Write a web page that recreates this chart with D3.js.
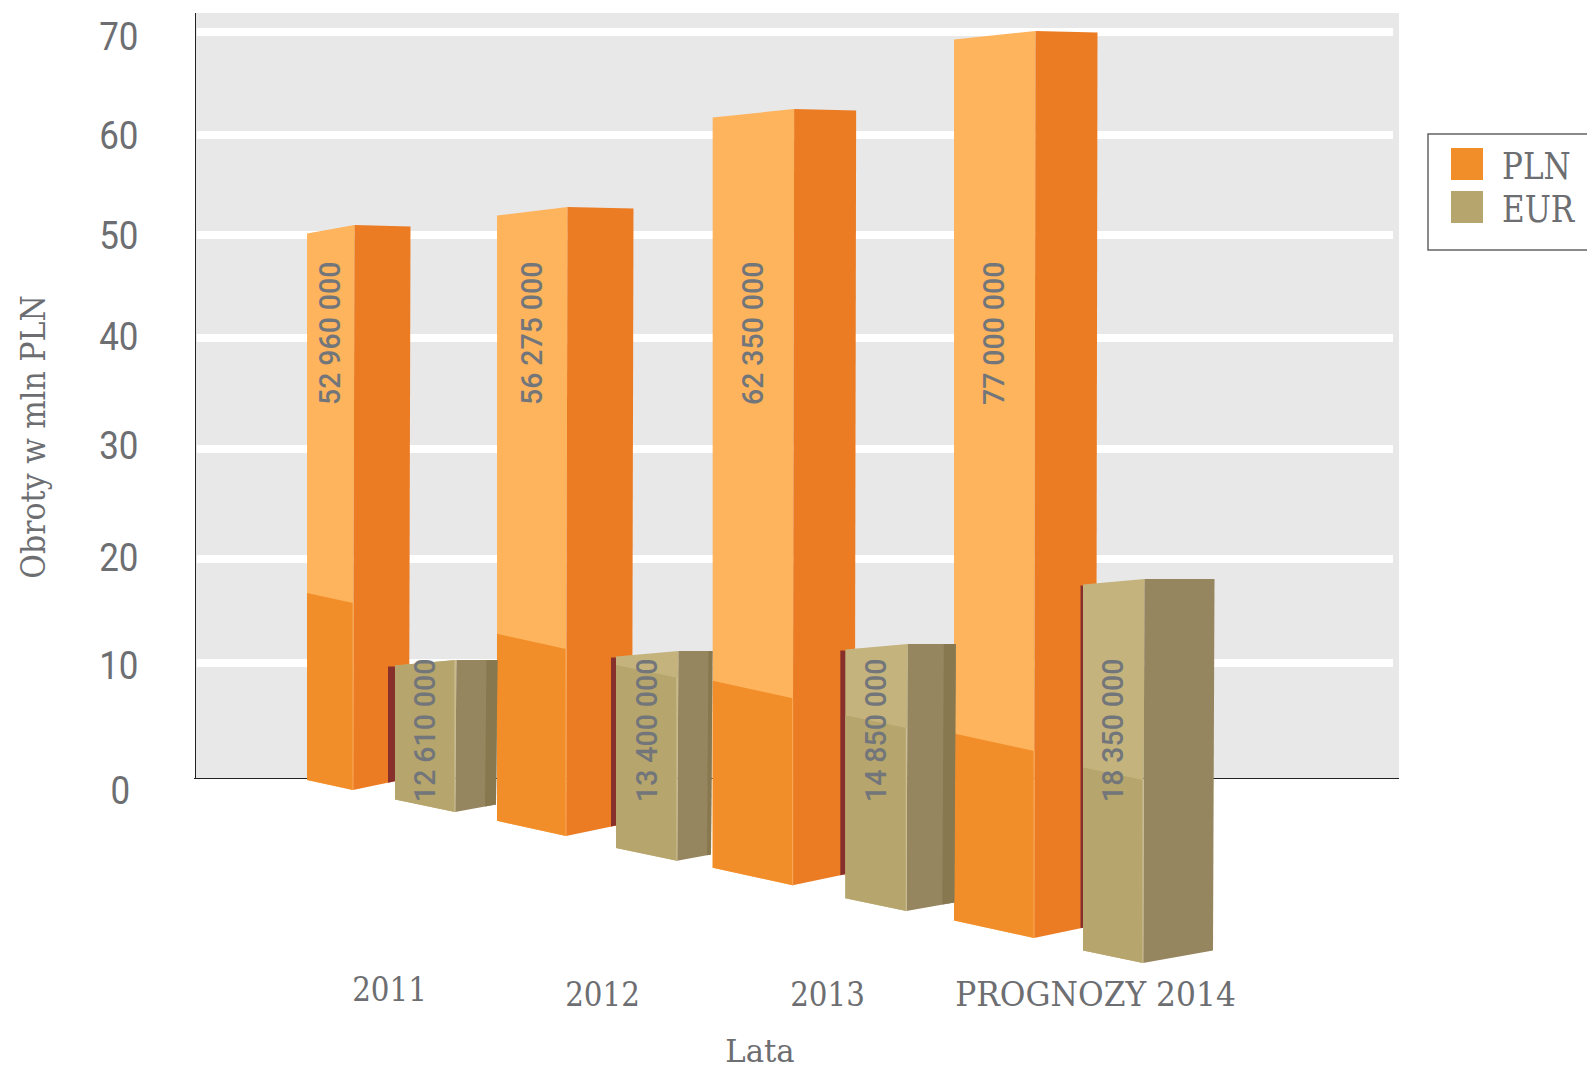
<!DOCTYPE html>
<html>
<head>
<meta charset="utf-8">
<script src="https://d3js.org/d3.v7.min.js"></script>
<style>
    body { margin: 0; background: #fff; overflow: hidden; }
    svg { display: block; }
</style>
</head>
<body>
<svg id="chart" width="1587" height="1070"></svg>
<script>
// values
var categories = ["2011", "2012", "2013", "PROGNOZY 2014"];
var plnValues = [52960000, 56275000, 62350000, 77000000];
var eurValues = [12610000, 13400000, 14850000, 18350000];
var yTicks = [0, 10, 20, 30, 40, 50, 60, 70];
var seriesNames = ["PLN", "EUR"];

var SERIF = "'DejaVu Serif', serif";
var SANS = "Roboto, sans-serif";
var TEXT = "#6d6e71";

var svg = d3.select("#chart");

// the printed axis is not evenly spaced, so both scales are piecewise
var yGrid = d3.scaleLinear().domain(yTicks).range([778, 663, 559, 449, 338, 235, 135, 32]);
var yLabel = d3.scaleLinear().domain(yTicks).range([791, 666, 558, 446, 337, 236, 136, 37]);
var xLabel = d3.scaleOrdinal(categories, [389, 602, 827, 1095]);

// bar tops in the original don't follow the axis, this is how tall each value was drawn
var topY = d3.scaleLinear()
    .domain(eurValues.concat(plnValues))
    .range([660, 651, 644, 579, 225, 207, 109, 31]);

// bars get bigger and further apart towards the viewer
function depth(c, range) {
    return d3.scalePow().exponent(2).domain([c, c + 3]).range(range);
}

var series = {
    PLN: {
        values: plnValues,
        left: depth(6.9, [307, 954]),
        base: depth(13.3, [790, 938]),
        front: d3.scaleOrdinal(categories, [46, 69, 80, 80]),
        side: d3.scaleOrdinal(categories, [56, 66, 62, 62]),
        strip: d3.scaleOrdinal(categories, [0, 0, 0, 0]),
        topDrop: 8.5, rightDrop: 1.5, frontSlope: 0.22, sideSlope: 0.21, shade: 187,
        colors: { light: "#fdb45d", dark: "#f28e2a", side: "#ec7c24", strip: "#ec7c24", seam: "#f9a95a" },
        labelY: 405
    },
    EUR: {
        values: eurValues,
        left: depth(26, [395, 1083]),
        base: depth(30, [812, 963]),
        front: d3.scaleOrdinal(categories, [60, 61, 61, 60]),
        side: d3.scaleOrdinal(categories, [41, 34, 48, 70]),
        strip: d3.scaleOrdinal(categories, [11, 4, 12, 0]),
        topDrop: 5.5, rightDrop: 0, frontSlope: 0.21, sideSlope: 0.18, shade: 183,
        colors: { light: "#c4b37d", dark: "#b6a56c", side: "#96865f", strip: "#87784f", seam: "#cfc29a" },
        labelY: 802
    }
};

function barsOf(name) {
    var s = series[name];
    return categories.map(function (cat, i) {
        var left = s.left(s.left.domain()[0] + i),
            front = s.front(cat),
            side = s.side(cat),
            base = s.base(s.base.domain()[0] + i);
        return {
            name: name, cat: cat, value: s.values[i], s: s,
            left: left, ridge: left + front, front: front, side: side,
            base: base, top: topY(s.values[i]), strip: s.strip(cat)
        };
    });
}

function pts(list) {
    return list.map(function (p) { return p.join(","); }).join(" ");
}

var lean = 1.5;

function frontFace(b) {
    return pts([[b.left, b.top + b.s.topDrop], [b.ridge + lean, b.top], [b.ridge, b.base], [b.left, b.base - b.front * b.s.frontSlope]]);
}

// lower darker part, the edge stays at one height above the foot of the bar
function shadeFace(b) {
    var leftFoot = b.base - b.front * b.s.frontSlope;
    return pts([
        [b.left, Math.max(b.top + b.s.topDrop, leftFoot - b.s.shade)],
        [b.ridge, Math.max(b.top, b.base - b.s.shade)],
        [b.ridge, b.base],
        [b.left, leftFoot]
    ]);
}

function sideFace(b) {
    var r = b.ridge + b.side;
    return pts([[b.ridge + lean, b.top], [r + lean, b.top + b.s.rightDrop], [r, b.base - b.side * b.s.sideSlope], [b.ridge, b.base]]);
}

function stripFace(b) {
    var r = b.ridge + b.side, l = r - b.strip;
    return pts([[l + lean, b.top], [r + lean, b.top], [r, b.base - b.side * b.s.sideSlope], [l, b.base - (b.side - b.strip) * b.s.sideSlope]]);
}

// plot background
svg.append("rect")
    .attr("x", 196).attr("y", 13)
    .attr("width", 1203).attr("height", 765)
    .attr("fill", "#e8e8e8");

svg.append("g").selectAll("line")
    .data(yTicks.slice(1))
    .join("line")
    .attr("x1", 197).attr("x2", 1393)
    .attr("y1", function (d) { return yGrid(d); })
    .attr("y2", function (d) { return yGrid(d); })
    .attr("stroke", "#fff")
    .attr("stroke-width", 8);

svg.append("line").attr("x1", 195.5).attr("x2", 195.5).attr("y1", 13).attr("y2", 778).attr("stroke", "#222").attr("stroke-width", 1);
svg.append("line").attr("x1", 194).attr("x2", 1399).attr("y1", 778.5).attr("y2", 778.5).attr("stroke", "#222").attr("stroke-width", 1);

// y axis labels
var yAxis = svg.append("g")
    .attr("transform", "translate(138.5,0)")
    .call(d3.axisLeft(yLabel).tickValues(yTicks).tickSize(0).tickPadding(0));
yAxis.select(".domain").remove();
yAxis.selectAll("text")
    .attr("font-family", SANS)
    .attr("font-size", 38)
    .attr("fill", TEXT)
    .attr("x", function (d) { return d == 0 ? -9 : 0; })
    .attr("transform", "scale(.92,1)");

// x axis labels
var xAxis = svg.append("g")
    .attr("transform", "translate(0,1006)")
    .call(d3.axisBottom(xLabel).tickSize(0).tickPadding(0));
xAxis.select(".domain").remove();
xAxis.selectAll("text")
    .attr("font-family", SERIF)
    .attr("font-size", 33)
    .attr("fill", TEXT)
    .attr("dy", 0)
    .attr("y", function (d) { return d == "2011" ? -5 : 0; })
    .attr("transform", function (d) { return d.length > 4 ? "scale(.95,1)" : "scale(.89,1)"; });

svg.append("text")
    .attr("transform", "translate(760,1062) scale(.96,1)")
    .attr("text-anchor", "middle")
    .attr("font-family", SERIF).attr("font-size", 32).attr("fill", TEXT)
    .text("Lata");

svg.append("text")
    .attr("transform", "translate(45,437) rotate(-90) scale(.91,1)")
    .attr("text-anchor", "middle")
    .attr("font-family", SERIF).attr("font-size", 33).attr("fill", TEXT)
    .text("Obroty w mln PLN");

// bars, all PLN first because the EUR bars sit in front of them
function drawBars(g, bars) {
    var bar = g.selectAll("g").data(bars).join("g");
    bar.append("polygon").attr("points", frontFace).attr("fill", function (b) { return b.s.colors.light; });
    bar.append("polygon").attr("points", shadeFace).attr("fill", function (b) { return b.s.colors.dark; });
    bar.append("polygon").attr("points", sideFace).attr("fill", function (b) { return b.s.colors.side; });
    bar.filter(function (b) { return b.strip > 0; })
        .append("polygon").attr("points", stripFace).attr("fill", function (b) { return b.s.colors.strip; });
    bar.append("line")
        .attr("x1", function (b) { return b.ridge; })
        .attr("x2", function (b) { return b.ridge; })
        .attr("y1", function (b) { return Math.max(b.top, b.base - b.s.shade); })
        .attr("y2", function (b) { return b.base; })
        .attr("stroke", function (b) { return b.s.colors.seam; })
        .attr("stroke-width", 1);
}

var plnBars = barsOf("PLN"), eurBars = barsOf("EUR");
drawBars(svg.append("g"), plnBars);

// dark red shadow of each EUR bar on the PLN bar behind it
var shadowWidth = d3.scaleOrdinal(categories, [7, 5, 5, 2.5]);
svg.append("g").selectAll("polygon")
    .data(eurBars)
    .join("polygon")
    .attr("fill", "#87302b")
    .attr("points", function (b, i) {
        var p = plnBars[i], x0 = b.left - shadowWidth(b.cat), x1 = b.left + 1,
            y = b.top + b.s.topDrop + 1;
        return pts([[x0, y], [x1, y],
            [x1, p.base - (x1 - p.ridge) * p.s.sideSlope],
            [x0, p.base - (x0 - p.ridge) * p.s.sideSlope]]);
    });

drawBars(svg.append("g"), eurBars);

// value labels, rotated, centred on the front face
svg.append("g").selectAll("text")
    .data(plnBars.concat(eurBars))
    .join("text")
    .attr("transform", function (b) {
        return "translate(" + (b.left + b.front / 2) + "," + b.s.labelY + ") rotate(-90) scale(.98,1)";
    })
    .attr("dy", ".355em")
    .attr("font-family", SANS)
    .attr("font-size", 29)
    .attr("font-weight", 500)
    .attr("fill", "#72767a")
    .text(function (b) {
        return d3.format(",")(b.value).replace(/,/g, " ");
    });

// legend, runs off the right edge of the page in the original
var legend = svg.append("g");
legend.append("rect")
    .attr("x", 1428).attr("y", 134)
    .attr("width", 200).attr("height", 116)
    .attr("fill", "none").attr("stroke", "#58595b").attr("stroke-width", 1.4);

var legendColor = d3.scaleOrdinal(seriesNames, [series.PLN.colors.dark, series.EUR.colors.dark]);
var legendY = d3.scalePoint().domain(seriesNames).range([148, 191]);

legend.selectAll("rect.key")
    .data(seriesNames)
    .join("rect")
    .attr("class", "key")
    .attr("x", 1451)
    .attr("y", function (d) { return legendY(d); })
    .attr("width", 32).attr("height", 32)
    .attr("fill", function (d) { return legendColor(d); });

legend.selectAll("text")
    .data(seriesNames)
    .join("text")
    .attr("transform", function (d) { return "translate(1502," + (legendY(d) + 31) + ") scale(.84,1)"; })
    .attr("font-family", SERIF).attr("font-size", 37).attr("fill", TEXT)
    .text(function (d) { return d; });
</script>
</body>
</html>
